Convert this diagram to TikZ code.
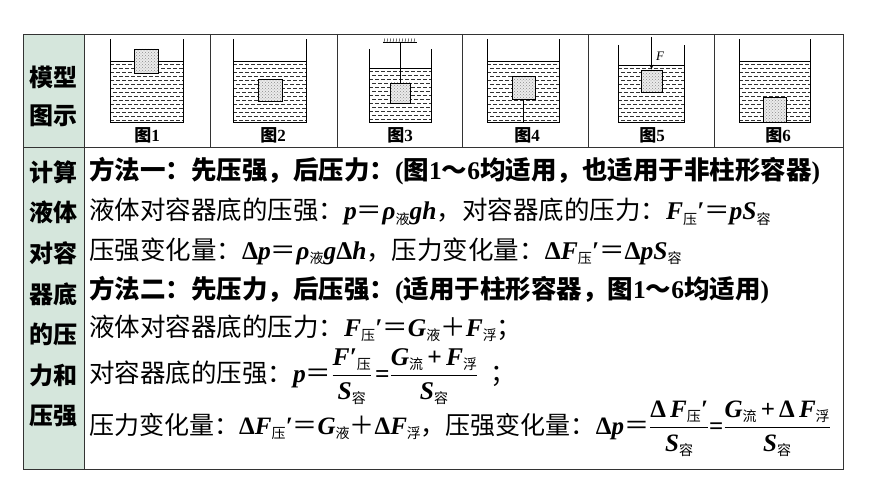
\documentclass[tikz,border=0pt]{standalone}
\usepackage{amsmath}
\usepackage{fontspec}
\setmainfont{Noto Sans CJK SC}
\newfontfamily\tms{Liberation Serif}
\usetikzlibrary{arrows.meta,patterns}
\definecolor{cellgreen}{HTML}{D5E6DC}
\definecolor{rulegray}{HTML}{333333}
\newcommand\vi[1]{{\tms\bfseries\itshape #1}}
\newcommand\vu[1]{{\tms\bfseries #1}}
\newcommand\zs[1]{\raisebox{-0.3ex}{\fontsize{14}{14}\selectfont #1}}
\newcommand\fr[2]{$\dfrac{\hbox{#1}}{\hbox{#2}}$}
\tikzset{
  frame/.style={draw=rulegray, line width=0.9pt},
  wall/.style={draw=black, line width=0.8pt},
  surface/.style={draw=black, line width=0.6pt},
  water/.style={draw=black!80, line width=0.5pt, dash pattern=on 4pt off 2pt},
  block/.style={draw=black, preaction={fill=black!8}, pattern=crosshatch dots,
    pattern color=black!45, line width=0.7pt, inner sep=0pt},
  string/.style={draw=black, line width=0.6pt},
  side/.style={font=\fontsize{24}{24}\selectfont\bfseries, inner sep=0pt},
  figlab/.style={font=\fontsize{17}{17}\selectfont\bfseries, inner sep=0pt},
  txt/.style={anchor=base west, font=\fontsize{25.5}{25.5}\selectfont, inner sep=0pt},
}
\begin{document}
\begin{tikzpicture}[x=1pt,y=-1pt]
  \useasboundingbox (0,0) rectangle (870,489);
  % table
  \fill[cellgreen] (23,34) rectangle (84,469);
  \draw[frame] (23,34) rectangle (843,469);
  \draw[frame] (23,147) -- (843,147);
  \draw[frame] (84,34) -- (84,469);
  \foreach \x in {210,337,462,588,714}
    \draw[frame] (\x,34) -- (\x,147);
  \node[side] (m1) at (53.5,77) {模型};
  \node[side] (m2) at (53.5,116) {图示};
  \foreach \t [count=\i] in {计算,液体,对容,器底,的压,力和,压强}
    \node[side] (s\i) at (53.5,{172+40.7*(\i-1)}) {\t};
  % tanks
  \foreach \xl/\xr/\yt/\yw in {110/183/39/61, 233/306/39/61, 369/431/49/68,
      487/559/39/61, 618/684/45/65, 739/810/39/61}{
    \begin{scope}
      \clip (\xl,\yw) rectangle (\xr,122);
      \foreach \k in {0,...,16}{
        \pgfmathsetmacro\ph{mod(\k,2)*3}
        \draw[water, dash phase=\ph pt] (\xl,\yw+3+4*\k) -- (\xr,\yw+3+4*\k);
      }
    \end{scope}
    \draw[surface] (\xl,\yw) -- (\xr,\yw);
    \draw[wall] (\xl,\yt) -- (\xl,122) -- (\xr,122) -- (\xr,\yt);
  }
  \foreach \x [count=\i] in {147,273,400,527,652,778}
    \node[figlab] (fig\i) at (\x,135) {图\vu{\i}};
  % blocks
  \node[block, minimum width=24pt, minimum height=24pt] (b1) at (146,61) {};
  \node[block, minimum width=24pt, minimum height=22pt] (b2) at (270,90) {};
  \node[block, minimum width=20pt, minimum height=20pt] (b3) at (400,93) {};
  \node[block, minimum width=23pt, minimum height=23pt] (b4) at (523.5,87.5) {};
  \node[block, minimum width=21pt, minimum height=22pt] (b5) at (651.5,81) {};
  \node[block, minimum width=23pt, minimum height=25pt] (b6) at (774.5,109.5) {};
  % string, rod and force
  \coordinate (ceil3) at (400,42);
  \draw[wall] (383,42) -- (417,42);
  \foreach \x in {384,387,...,416}
    \draw[line width=0.4pt] (\x,42) -- (\x+0.8,38.5);
  \draw[string] (ceil3) -- (b3.north);
  \coordinate (floor4) at (523.5,122);
  \draw[string] (b4.south) -- (floor4);
  \coordinate (push5) at (651.5,37);
  \draw[string, -{Stealth[length=5pt,width=3.5pt]}] (push5) -- (b5.north);
  \node[font=\fontsize{13}{13}\selectfont\tms\itshape, inner sep=0pt] (f5) at (660,56) {F};
  % formulas
  \node[txt] (l1) at (89,180) {\bfseries 方法一：先压强，后压力：\vu{(}图\vu{1}～\vu{6}均适用，也适用于非柱形容器\vu{)}};
  \node[txt] (l2) at (89,220) {液体对容器底的压强：\vi{p}＝\vi{ρ}\zs{液}\vi{gh}，对容器底的压力：\vi{F}\zs{压}\vi{′}＝\vi{pS}\zs{容}};
  \node[txt] (l3) at (89,259) {压强变化量：\vu{Δ}\vi{p}＝\vi{ρ}\zs{液}\vi{g}\vu{Δ}\vi{h}，压力变化量：\vu{Δ}\vi{F}\zs{压}\vi{′}＝\vu{Δ}\vi{pS}\zs{容}};
  \node[txt] (l4) at (89,298) {\bfseries 方法二：先压力，后压强：\vu{(}适用于柱形容器，图\vu{1}～\vu{6}均适用\vu{)}};
  \node[txt] (l5) at (89,336) {液体对容器底的压力：\vi{F}\zs{压}\vi{′}＝\vi{G}\zs{液}＋\vi{F}\zs{浮}；};
  \node[txt] (l6) at (89,382) {对容器底的压强：\vi{p}＝\fr{\vi{F′}\zs{压}}{\vi{S}\zs{容}}\hspace{3pt}\vu{=}\fr{\vi{G}\zs{流}\,\vu{+}\,\vi{F}\zs{浮}}{\vi{S}\zs{容}}\hspace{12pt}；};
  \node[txt, font=\fontsize{25}{25}\selectfont] (l7) at (89,434) {压力变化量：\vu{Δ}\vi{F}\zs{压}\vi{′}＝\vi{G}\zs{液}＋\vu{Δ}\vi{F}\zs{浮}，压强变化量：\vu{Δ}\vi{p}＝\fr{\vu{Δ}\,\vi{F}\zs{压}\vi{′}}{\vi{S}\zs{容}}\vu{=}\fr{\vi{G}\zs{流}\,\vu{+}\,\vu{Δ}\,\vi{F}\zs{浮}}{\vi{S}\zs{容}}};
\end{tikzpicture}
\end{document}
